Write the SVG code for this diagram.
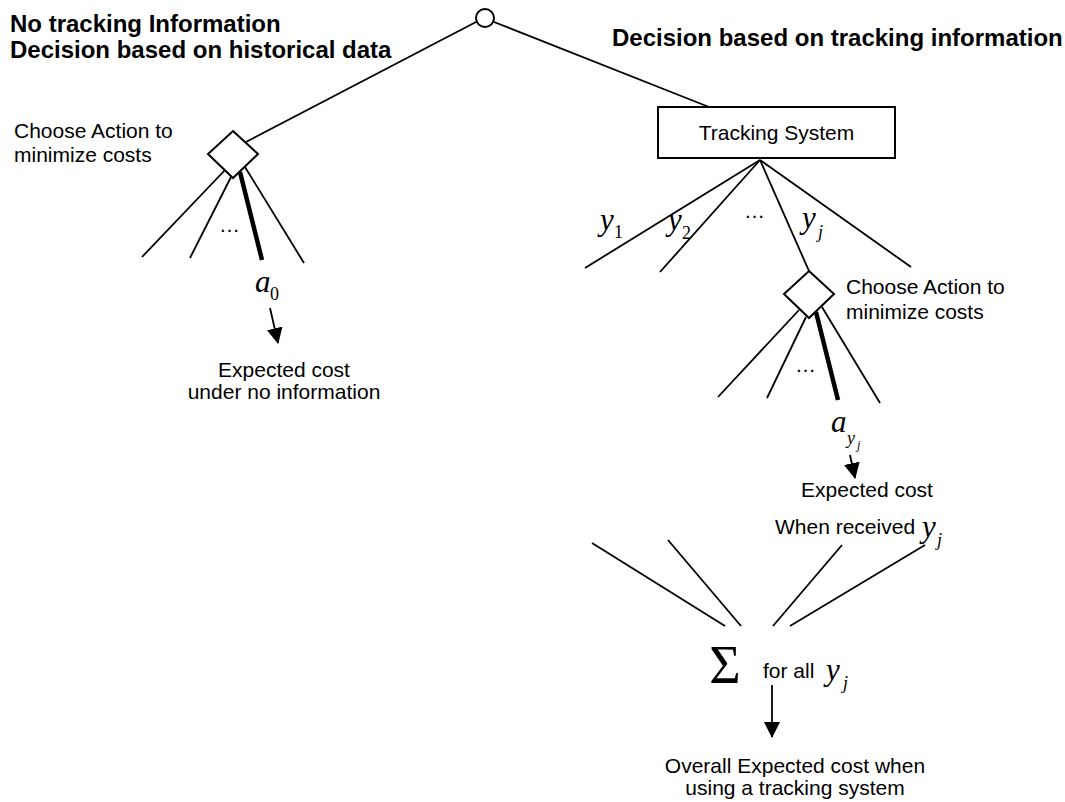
<svg xmlns="http://www.w3.org/2000/svg" width="1065" height="802" viewBox="0 0 1065 802">
<style>
.hd{font-family:"Liberation Sans",Arial,sans-serif;font-weight:bold;font-size:24px;fill:#000}
.tx{font-family:"Liberation Sans",Arial,sans-serif;font-size:21px;fill:#000}
.mi{font-family:"Liberation Serif","Times New Roman",serif;font-style:italic;font-size:31px;fill:#000}
.sb{font-family:"Liberation Serif","Times New Roman",serif;font-size:18px;fill:#000}
.sbi{font-family:"Liberation Serif","Times New Roman",serif;font-style:italic;font-size:18px;fill:#000}
.ssb{font-family:"Liberation Serif","Times New Roman",serif;font-style:italic;font-size:12px;fill:#000}
.ln{stroke:#000;stroke-width:1.8;fill:none}
.thk{stroke:#000;stroke-width:4.5;fill:none}
.shape{stroke:#000;stroke-width:2;fill:#fff}
.arr{stroke:#000;stroke-width:1.8;fill:none;marker-end:url(#ah)}
</style>
<defs>
<marker id="ah" viewBox="0 0 16 16" refX="15" refY="8" markerWidth="16" markerHeight="16" markerUnits="userSpaceOnUse" orient="auto">
<path d="M0,0 L16,8 L0,16 Z" fill="#000"/>
</marker>
</defs>

<g id="headings">
<text class="hd" x="10" y="32">No tracking Information</text>
<text class="hd" x="10" y="58">Decision based on historical data</text>
<text class="hd" x="612" y="46">Decision based on tracking information</text>
</g>

<g id="connectors">
<line class="ln" x1="476" y1="22" x2="246" y2="142"/>
<line class="ln" x1="494" y1="22" x2="709" y2="107"/>
<!-- left decision branches -->
<line class="ln" x1="225" y1="170" x2="142" y2="257"/>
<line class="ln" x1="231" y1="177" x2="190" y2="258"/>
<line class="thk" x1="240" y1="172" x2="262" y2="260"/>
<line class="ln" x1="245" y1="167" x2="304" y2="263"/>
<!-- tracking outcomes -->
<line class="ln" x1="760" y1="160" x2="585" y2="268"/>
<line class="ln" x1="760" y1="160" x2="660" y2="272"/>
<line class="ln" x1="760" y1="160" x2="809" y2="271"/>
<line class="ln" x1="760" y1="160" x2="911" y2="267"/>
<!-- right decision branches -->
<line class="ln" x1="799" y1="310" x2="718" y2="397"/>
<line class="ln" x1="806" y1="317" x2="767" y2="398"/>
<line class="thk" x1="816" y1="312" x2="838" y2="400"/>
<line class="ln" x1="822" y1="307" x2="880" y2="403"/>
<!-- into summation -->
<line class="ln" x1="592" y1="543" x2="725" y2="626"/>
<line class="ln" x1="668" y1="540" x2="741" y2="626"/>
<line class="ln" x1="842" y1="545" x2="773" y2="626"/>
<line class="ln" x1="925" y1="545" x2="790" y2="626"/>
<!-- arrows -->
<line class="arr" x1="270" y1="308" x2="278" y2="343"/>
<line class="arr" x1="850" y1="455" x2="855" y2="478"/>
<line class="arr" x1="772" y1="685" x2="772" y2="737"/>
</g>

<g id="root-chance">
<circle class="shape" cx="485" cy="18" r="9" stroke-width="1.6"/>
</g>

<g id="decision-no-info">
<polygon class="shape" points="233,131 258,154 233,178 208,154"/>
<text class="tx" x="14" y="138">Choose Action to</text>
<text class="tx" x="14" y="162">minimize costs</text>
<text class="tx" x="219" y="232">…</text>
<text class="mi" x="255" y="292">a</text><text class="sb" x="270" y="300">0</text>
<text class="tx" x="284" y="377" text-anchor="middle">Expected cost</text>
<text class="tx" x="284" y="399" text-anchor="middle">under no information</text>
</g>

<g id="tracking-system">
<rect class="shape" x="658" y="107" width="237" height="51"/>
<text class="tx" x="776.5" y="140" text-anchor="middle" font-size="22">Tracking System</text>
<text class="mi" x="600" y="230">y</text><text class="sb" x="614" y="238">1</text>
<text class="mi" x="668" y="230">y</text><text class="sb" x="682" y="239">2</text>
<text class="tx" x="744" y="218">…</text>
<text class="mi" x="802" y="228">y</text><text class="sbi" x="818" y="238">j</text>
</g>

<g id="decision-tracking">
<polygon class="shape" points="809,271 834,294 809,318 784,294"/>
<text class="tx" x="846" y="294">Choose Action to</text>
<text class="tx" x="846" y="319">minimize costs</text>
<text class="tx" x="795" y="372">…</text>
<text class="mi" x="831" y="432">a</text><text class="sbi" x="847" y="444">y</text><text class="ssb" x="857" y="449">j</text>
<text class="tx" x="867" y="497" text-anchor="middle">Expected cost</text>
<text class="tx" x="775" y="534">When received</text>
<text class="mi" x="922" y="537">y</text><text class="sbi" x="937" y="546">j</text>
</g>

<g id="summation">
<text x="725" y="683" text-anchor="middle" font-family="'Liberation Serif','Times New Roman',serif" font-size="54">Σ</text>
<text class="tx" x="763" y="678">for all</text>
<text class="mi" x="826" y="680">y</text><text class="sbi" x="843" y="689">j</text>
<text class="tx" x="795" y="773" text-anchor="middle">Overall Expected cost when</text>
<text class="tx" x="795" y="795" text-anchor="middle">using a tracking system</text>
</g>
</svg>
